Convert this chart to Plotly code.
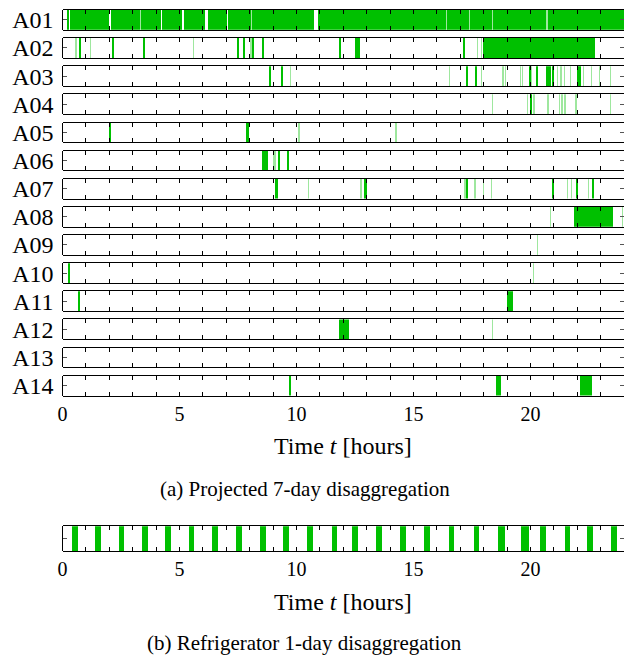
import plotly.graph_objects as go

# ---------------- data (hours of the day) ----------------
appliances = ["A01", "A02", "A03", "A04", "A05", "A06", "A07",
              "A08", "A09", "A10", "A11", "A12", "A13", "A14"]

A01_on = [(0.18, 0.24), (0.30, 1.95), (2.04, 3.28), (3.33, 4.18), (4.25, 5.10),
          (5.18, 6.05), (6.18, 7.00), (7.07, 8.04), (8.09, 10.75), (10.88, 16.38),
          (16.43, 17.36), (17.41, 18.33), (18.38, 20.66), (20.71, 24.0)]
A01_faint = [3.28, 8.04, 16.38, 17.36, 18.33, 20.66]

A02_on = [(0.70, 0.76), (2.12, 2.18), (3.44, 3.50), (7.47, 7.53), (7.72, 7.77),
          (8.12, 8.18), (8.51, 8.56), (11.80, 11.86), (12.50, 12.68),
          (17.12, 17.18), (17.95, 22.75)]
A02_faint = [0.52, 1.15, 5.54, 8.00, 17.70, 17.86]

A03_on = [(8.83, 8.88), (9.33, 9.39), (17.25, 17.31), (17.62, 17.68), (19.92, 19.97),
          (20.26, 20.32), (20.64, 20.86), (20.94, 20.99), (21.99, 22.05), (22.08, 22.13)]
A03_faint = [9.70, 16.50, 17.87, 18.77, 18.89, 19.52, 19.61, 20.00, 21.12, 21.26,
             21.40, 21.66, 22.22, 22.56, 22.91, 23.38]

A04_on = [(19.99, 20.04)]
A04_faint = [18.32, 19.82, 20.10, 20.70, 21.20, 21.30, 21.43, 21.90, 23.38]

A05_on = [(1.97, 2.03), (7.86, 7.93)]
A05_faint = [10.05, 14.20]

A06_on = [(8.52, 8.58), (8.62, 8.68), (8.70, 8.76), (9.23, 9.28), (9.60, 9.66)]
A06_faint = [8.97, 9.04]

A07_on = [(9.10, 9.17), (12.90, 12.98), (17.24, 17.31), (20.93, 20.99),
          (21.96, 22.02), (22.64, 22.70)]
A07_faint = [10.46, 12.71, 17.16, 17.58, 17.94, 18.29, 21.54, 21.71, 22.42]

A08_on = [(21.84, 23.53)]
A08_faint = [20.80, 23.88]

A09_on = []
A09_faint = [20.24]

A10_on = [(0.22, 0.30)]
A10_faint = [20.09]

A11_on = [(0.65, 0.72), (18.97, 19.22)]
A11_faint = []

A12_on = [(11.81, 12.23)]
A12_faint = [18.32]

A13_on = []
A13_faint = []

A14_on = [(9.67, 9.74), (18.50, 18.73), (22.08, 22.61)]
A14_faint = []

fridge_start = [0.38, 1.38, 2.38, 3.38, 4.38, 5.37, 6.37, 7.40, 8.42, 9.42, 10.45, 11.48,
                12.37, 13.39, 14.41, 15.44, 16.49, 17.55, 18.59, 19.59, 20.40, 21.45, 22.41, 23.43]
fridge_end = [0.62, 1.62, 2.62, 3.62, 4.62, 5.61, 6.61, 7.64, 8.66, 9.66, 10.69, 11.72,
              12.61, 13.63, 14.65, 15.68, 16.73, 17.79, 18.90, 19.90, 20.64, 21.69, 22.65, 23.67]

tick_hours = list(range(0, 25))
tick_text = [str(h) if h % 5 == 0 else "" for h in tick_hours]

ON = [A01_on, A02_on, A03_on, A04_on, A05_on, A06_on, A07_on,
      A08_on, A09_on, A10_on, A11_on, A12_on, A13_on, A14_on]
FAINT = [A01_faint, A02_faint, A03_faint, A04_faint, A05_faint, A06_faint, A07_faint,
         A08_faint, A09_faint, A10_faint, A11_faint, A12_faint, A13_faint, A14_faint]

# ---------------- layout geometry ----------------
W, H = 624, 659
X_LEFT = 58 / W
TOP0, PITCH, ROW_H = 7, 28.4, 20
EVENT_W = 0.06
GREEN = "rgb(0,192,0)"
FAINT_GREEN = "rgba(0,192,0,0.38)"
FONT = "Liberation Serif"

fig = go.Figure()
layout = dict(width=W, height=H, margin=dict(l=0, r=0, t=0, b=0),
              paper_bgcolor="white", plot_bgcolor="white",
              barmode="overlay", showlegend=False, bargap=0)


def axis_names(n):
    return ("x" if n == 1 else f"x{n}", "y" if n == 1 else f"y{n}",
            "xaxis" if n == 1 else f"xaxis{n}", "yaxis" if n == 1 else f"yaxis{n}")


def add_bars(xa, ya, starts, ends, color):
    fig.add_trace(go.Bar(orientation="h", y=[0] * len(starts), base=starts,
                         x=[e - s for s, e in zip(starts, ends)], width=1,
                         marker=dict(color=color, line=dict(width=0)),
                         xaxis=xa, yaxis=ya, hoverinfo="skip"))


def style_axes(n, top, height, label, show_labels):
    xa, ya, xk, yk = axis_names(n)
    dom = [1 - (top + height) / H, 1 - top / H]
    layout[xk] = dict(domain=[X_LEFT, 1], range=[0, 24], anchor=ya,
                      tickvals=tick_hours, ticktext=tick_text,
                      showticklabels=show_labels, ticks="inside", ticklen=4,
                      tickcolor="black", tickwidth=1, mirror="allticks",
                      showline=True, linecolor="black", linewidth=1,
                      showgrid=False, zeroline=True, zerolinecolor="black",
                      zerolinewidth=1, fixedrange=True,
                      tickfont=dict(family=FONT, size=20, color="black"))
    layout[yk] = dict(domain=dom, range=[-0.5, 0.5], anchor=xa,
                      tickvals=[0], ticktext=[label], ticks="inside", ticklen=4,
                      tickcolor="#555", mirror="allticks", showline=False,
                      showgrid=False, zeroline=False, fixedrange=True,
                      ticklabelstandoff=8,
                      tickfont=dict(family=FONT, size=24, color="black"))
    return xa, ya


n_rows = len(appliances)
for i, name in enumerate(appliances):
    n = i + 1
    top = TOP0 + i * PITCH
    xa, ya = style_axes(n, top, ROW_H, name, i == n_rows - 1)
    add_bars(xa, ya, [t for t in FAINT[i]], [t + EVENT_W for t in FAINT[i]], FAINT_GREEN)
    add_bars(xa, ya, [s for s, e in ON[i]], [e for s, e in ON[i]], GREEN)

# refrigerator panel
nb = n_rows + 1
xa, ya = style_axes(nb, 528, 25, "", True)
add_bars(xa, ya, fridge_start, fridge_end, GREEN)

center_x = (58 + 624) / 2 / W
layout["annotations"] = [
    dict(text="Time <i>t</i> [hours]", x=center_x, y=1 - 447 / H, xref="paper", yref="paper",
         showarrow=False, xanchor="center", yanchor="middle",
         font=dict(family=FONT, size=24, color="black")),
    dict(text="(a) Projected 7-day disaggregation", x=302 / W, y=1 - 490 / H,
         xref="paper", yref="paper", showarrow=False, xanchor="center", yanchor="middle",
         font=dict(family=FONT, size=21, color="black")),
    dict(text="Time <i>t</i> [hours]", x=center_x, y=1 - 605 / H, xref="paper", yref="paper",
         showarrow=False, xanchor="center", yanchor="middle",
         font=dict(family=FONT, size=24, color="black")),
    dict(text="(b) Refrigerator 1-day disaggregation", x=302 / W, y=1 - 646 / H,
         xref="paper", yref="paper", showarrow=False, xanchor="center", yanchor="middle",
         font=dict(family=FONT, size=21, color="black")),
]

fig.update_layout(**layout)
fig.write_html("out.html")
